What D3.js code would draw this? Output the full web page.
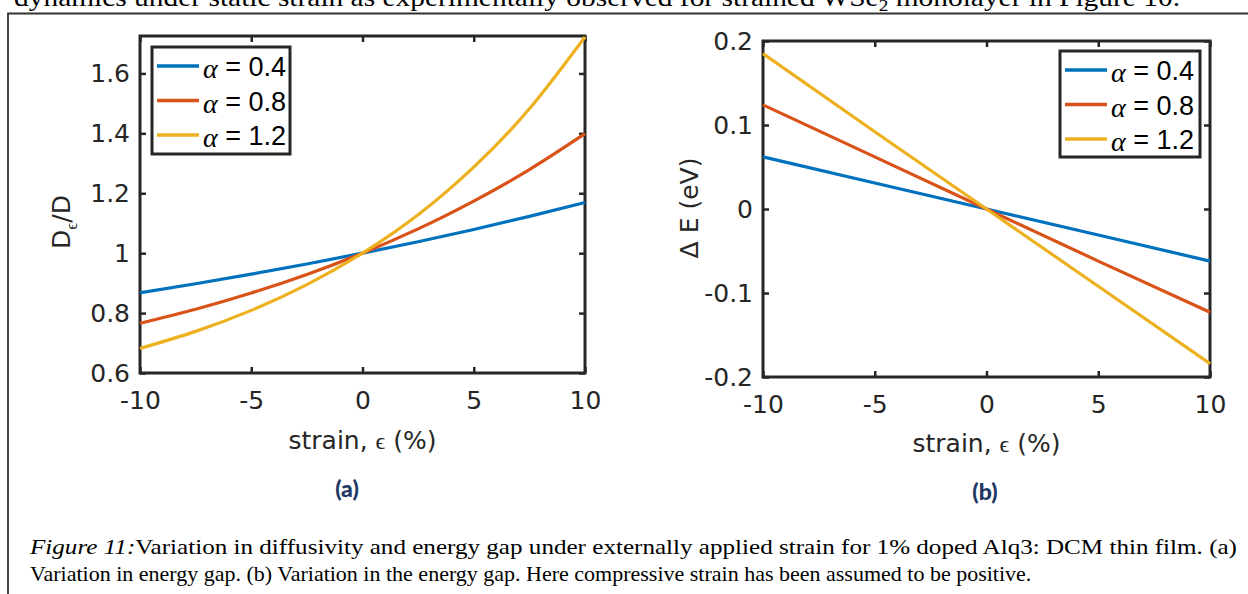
<!DOCTYPE html>
<html>
<head>
<meta charset="utf-8">
<script src="https://cdn.jsdelivr.net/npm/d3@7"></script>
<style>
  html, body { margin: 0; padding: 0; background: #ffffff; }
  svg { display: block; }
</style>
</head>
<body>
<svg id="chart" width="1248" height="594"></svg>
<script>
// ---------------- DATA ----------------
const alphaLabels = ["0.4", "0.8", "1.2"];

// Panel (a): D_eps / D versus strain
const strainA = [-10, -7.5, -5, -2.5, 0, 2.5, 5, 7.5, 10];
const dA04 = [0.868, 0.898, 0.930, 0.964, 1.000, 1.038, 1.079, 1.123, 1.169];
const dA08 = [0.766, 0.813, 0.867, 0.929, 1.000, 1.081, 1.174, 1.279, 1.399];
const dA12 = [0.682, 0.739, 0.809, 0.895, 1.000, 1.128, 1.287, 1.482, 1.722];
const yTicksA = [0.6, 0.8, 1.0, 1.2, 1.4, 1.6];
const yTickLabelsA = ["0.6", "0.8", "1", "1.2", "1.4", "1.6"];

// Panel (b): Delta E (eV) versus strain
const strainB = [-10, -5, 0, 5, 10];
const eB04 = [0.062, 0.031, 0.000, -0.031, -0.062];
const eB08 = [0.124, 0.062, 0.000, -0.062, -0.123];
const eB12 = [0.185, 0.092, 0.000, -0.092, -0.184];
const yTicksB = [-0.2, -0.1, 0, 0.1, 0.2];
const yTickLabelsB = ["-0.2", "-0.1", "0", "0.1", "0.2"];

const xTicks = [-10, -5, 0, 5, 10];
const xTickLabels = ["-10", "-5", "0", "5", "10"];

// ---------------- STYLE / LAYOUT ----------------
const colors = ["#0072BD", "#D95319", "#EDB120"];
const axisColor = "#262626";
const tickFont = "'DejaVu Sans', 'Liberation Sans', Arial, sans-serif";
const legendFont = "'Liberation Sans', Arial, sans-serif";
const serif = "'Liberation Serif', 'Times New Roman', serif";

const svg = d3.select("#chart");
svg.append("rect").attr("width", 1248).attr("height", 594).attr("fill", "#fff");

// Top cut-off paragraph line (partially outside the page, as in the reference)
const topLine = svg.append("text")
  .attr("x", 14).attr("y", 6)
  .attr("font-family", serif).attr("font-size", 26).attr("fill", "#000")
  .attr("textLength", 1166).attr("lengthAdjust", "spacingAndGlyphs");
topLine.append("tspan").text("dynamics under static strain as experimentally observed for strained WSe");
topLine.append("tspan").attr("font-size", 17).attr("dy", 5).text("2");
topLine.append("tspan").attr("dy", -5).text(" monolayer in Figure 10.");

// Frame
svg.append("path")
  .attr("d", "M8,594 V13.5 H1248")
  .attr("fill", "none").attr("stroke", "#333").attr("stroke-width", 1.8);

function drawPanel(cfg) {
  const g = svg.append("g");
  const x = d3.scaleLinear().domain([-10, 10]).range([cfg.x0, cfg.x1]);
  const y = d3.scaleLinear().domain(cfg.yDomain).range([cfg.y1, cfg.y0]);

  const styleAxis = sel => {
    sel.select(".domain").remove();
    sel.selectAll(".tick line").attr("stroke", axisColor).attr("stroke-width", 2.5);
    sel.selectAll(".tick text").attr("fill", axisColor)
      .attr("font-family", tickFont).attr("font-size", 25);
  };

  g.append("g").attr("transform", `translate(0,${cfg.y1})`)
    .call(d3.axisBottom(x).tickValues(xTicks).tickFormat((d, i) => xTickLabels[i])
      .tickSizeInner(-6).tickSizeOuter(0).tickPadding(18))
    .call(styleAxis);
  g.append("g").attr("transform", `translate(0,${cfg.y0})`)
    .call(d3.axisTop(x).tickValues(xTicks).tickFormat("")
      .tickSizeInner(-6).tickSizeOuter(0))
    .call(styleAxis);
  g.append("g").attr("transform", `translate(${cfg.x0},0)`)
    .call(d3.axisLeft(y).tickValues(cfg.yTicks).tickFormat((d, i) => cfg.yLabels[i])
      .tickSizeInner(-6).tickSizeOuter(0).tickPadding(10))
    .call(styleAxis);
  g.append("g").attr("transform", `translate(${cfg.x1},0)`)
    .call(d3.axisRight(y).tickValues(cfg.yTicks).tickFormat("")
      .tickSizeInner(-6).tickSizeOuter(0))
    .call(styleAxis);

  // box
  g.append("rect")
    .attr("x", cfg.x0).attr("y", cfg.y0)
    .attr("width", cfg.x1 - cfg.x0).attr("height", cfg.y1 - cfg.y0)
    .attr("fill", "none").attr("stroke", axisColor).attr("stroke-width", 3);

  // series
  const line = d3.line().x(d => x(d[0])).y(d => y(d[1])).curve(cfg.curve);
  cfg.series.forEach((vals, i) => {
    g.append("path")
      .datum(cfg.xs.map((s, k) => [s, vals[k]]))
      .attr("d", line)
      .attr("fill", "none").attr("stroke", colors[i])
      .attr("stroke-width", 3.2).attr("stroke-linejoin", "round");
  });

  // legend
  const L = cfg.legend;
  g.append("rect").attr("x", L.x).attr("y", L.y).attr("width", L.w).attr("height", L.h)
    .attr("fill", "#fff").attr("stroke", axisColor).attr("stroke-width", 3);
  alphaLabels.forEach((a, i) => {
    const cy = L.y + 19 + i * 34.5;
    g.append("line").attr("x1", L.x + 5).attr("x2", L.x + 47)
      .attr("y1", cy).attr("y2", cy)
      .attr("stroke", colors[i]).attr("stroke-width", 3.5);
    const t = g.append("text").attr("x", L.x + 51).attr("y", cy + 10)
      .attr("font-family", legendFont).attr("font-size", 27).attr("fill", "#000");
    t.append("tspan").attr("font-family", serif).attr("font-style", "italic")
      .attr("font-size", 28).attr("dy", 2).text("α");
    t.append("tspan").attr("dy", -2).text(" = " + a);
  });

  // x label
  const xl = g.append("text").attr("x", (cfg.x0 + cfg.x1) / 2).attr("y", cfg.xlabelY)
    .attr("text-anchor", "middle").attr("font-family", tickFont)
    .attr("font-size", 25).attr("fill", axisColor);
  xl.append("tspan").text("strain, ");
  xl.append("tspan").attr("font-family", serif).attr("font-size", 24).text("ϵ");
  xl.append("tspan").text(" (%)");
  return {x, y};
}

drawPanel({
  x0: 140, x1: 585, y0: 36, y1: 373,
  yDomain: [0.6, 1.725], yTicks: yTicksA, yLabels: yTickLabelsA,
  xs: strainA, series: [dA04, dA08, dA12], curve: d3.curveNatural,
  legend: {x: 152, y: 47, w: 138, h: 107},
  xlabelY: 449
});
drawPanel({
  x0: 763, x1: 1210, y0: 41, y1: 377,
  yDomain: [-0.2, 0.2], yTicks: yTicksB, yLabels: yTickLabelsB,
  xs: strainB, series: [eB04, eB08, eB12], curve: d3.curveLinear,
  legend: {x: 1060, y: 51, w: 140, h: 106},
  xlabelY: 452
});

// y labels
const yl = svg.append("text").attr("transform", "translate(70,222) rotate(-90)")
  .attr("text-anchor", "middle").attr("font-family", tickFont)
  .attr("font-size", 25).attr("fill", axisColor);
yl.append("tspan").text("D");
yl.append("tspan").attr("font-family", serif).attr("font-size", 17).attr("dy", 7).text("ϵ");
yl.append("tspan").attr("dy", -7).text("/D");

svg.append("text").attr("transform", "translate(698,208) rotate(-90)")
  .attr("text-anchor", "middle").attr("font-family", tickFont)
  .attr("font-size", 25).attr("fill", axisColor).text("Δ E (eV)");

// panel captions
[["(a)", 347, 497], ["(b)", 985, 500]].forEach(([t, x, y]) => {
  svg.append("text").attr("x", x).attr("y", y).attr("text-anchor", "middle")
    .attr("font-family", "Lato, 'Open Sans', sans-serif").attr("font-weight", 900)
    .attr("font-size", 23).attr("fill", "#1F3864").text(t);
});

// figure caption
const c1 = svg.append("text").attr("x", 30).attr("y", 554)
  .attr("font-family", serif).attr("font-size", 22).attr("fill", "#000")
  .attr("textLength", 1207).attr("lengthAdjust", "spacingAndGlyphs");
c1.append("tspan").attr("font-style", "italic").text("Figure 11:");
c1.append("tspan").text("Variation in diffusivity and energy gap under externally applied strain for 1% doped Alq3: DCM thin film. (a)");
svg.append("text").attr("x", 30).attr("y", 581)
  .attr("font-family", serif).attr("font-size", 22).attr("fill", "#000")
  .text("Variation in energy gap. (b) Variation in the energy gap. Here compressive strain has been assumed to be positive.");
</script>
</body>
</html>
